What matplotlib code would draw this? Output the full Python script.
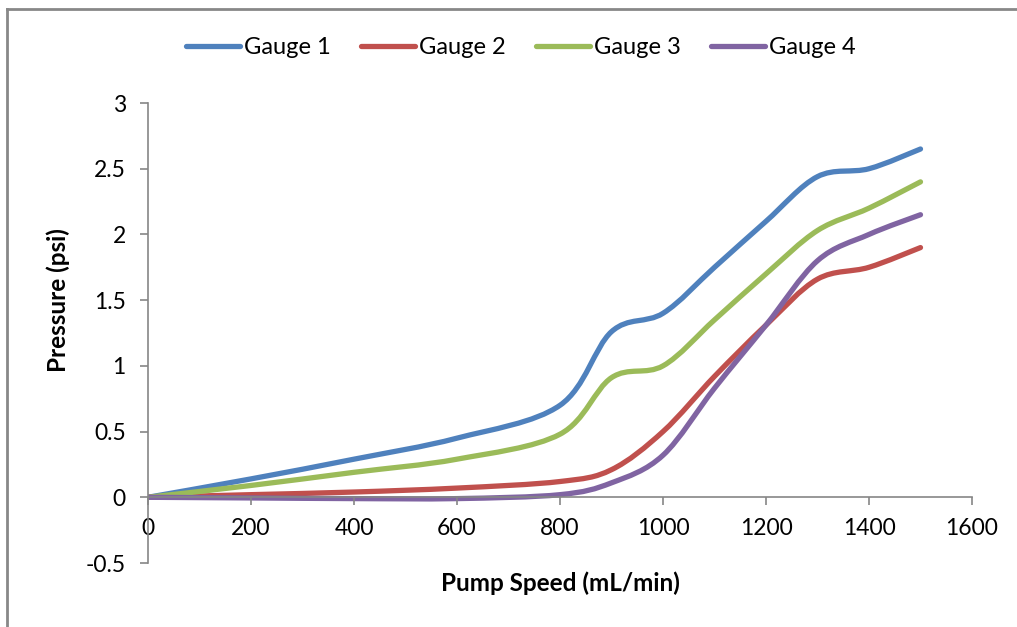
import matplotlib
matplotlib.use("Agg")
import matplotlib.pyplot as plt
from matplotlib.path import Path
from matplotlib.patches import PathPatch
from matplotlib.lines import Line2D

plt.rcParams['font.family'] = ['Lato', 'DejaVu Sans']

speed = [0, 200, 400, 600, 800, 900, 1000, 1100, 1200, 1300, 1400, 1500]
gauge1 = [0, 0.14, 0.29, 0.45, 0.70, 1.26, 1.40, 1.75, 2.10, 2.44, 2.50, 2.65]
gauge2 = [0, 0.02, 0.04, 0.07, 0.12, 0.21, 0.50, 0.92, 1.31, 1.66, 1.75, 1.90]
gauge3 = [0, 0.09, 0.19, 0.29, 0.48, 0.91, 1.00, 1.35, 1.70, 2.03, 2.20, 2.40]
gauge4 = [0, -0.005, -0.01, -0.01, 0.02, 0.11, 0.32, 0.83, 1.31, 1.80, 2.00, 2.15]
names = ['Gauge 1', 'Gauge 2', 'Gauge 3', 'Gauge 4']
colors = ['#4F81BD', '#C0504D', '#9BBB59', '#8064A2']


def smooth_path(xs, ys):
    # excel style smoothed line: cubic bezier through every point
    pts = list(zip(xs, ys))
    verts = [pts[0]]
    codes = [Path.MOVETO]
    n = len(pts)
    for i in range(n - 1):
        p0 = pts[i - 1] if i > 0 else pts[i]
        p1 = pts[i]
        p2 = pts[i + 1]
        p3 = pts[i + 2] if i + 2 < n else pts[i + 1]
        c1 = (p1[0] + (p2[0] - p0[0]) / 6, p1[1] + (p2[1] - p0[1]) / 6)
        c2 = (p2[0] - (p3[0] - p1[0]) / 6, p2[1] - (p3[1] - p1[1]) / 6)
        verts += [c1, c2, p2]
        codes += [Path.CURVE4] * 3
    return Path(verts, codes)


fig = plt.figure(figsize=(10.17, 6.27), dpi=100)
ax = fig.add_axes([148 / 1017, 1 - 563 / 627, 824 / 1017, 460 / 627])

handles = []
for ys, name, c in zip([gauge1, gauge2, gauge3, gauge4], names, colors):
    patch = PathPatch(smooth_path(speed, ys), facecolor='none', edgecolor=c,
                      lw=3.8, capstyle='round', joinstyle='round')
    ax.add_patch(patch)
    handles.append(Line2D([], [], color=c, lw=3.8, solid_capstyle='round', label=name))

ax.set_xlim(0, 1600)
ax.set_ylim(-0.5, 3)
ax.set_xticks(range(0, 1601, 200))
ax.set_yticks([-0.5, 0, 0.5, 1, 1.5, 2, 2.5, 3])
ax.set_yticklabels(['-0.5', '0', '0.5', '1', '1.5', '2', '2.5', '3'])

ax.spines['top'].set_visible(False)
ax.spines['right'].set_visible(False)
ax.spines['bottom'].set_position(('data', 0))
for s in ['left', 'bottom']:
    ax.spines[s].set_color('#868686')
    ax.spines[s].set_linewidth(1.2)
ax.tick_params(colors='#868686', labelcolor='black', labelsize=16.5, length=6, width=1.2)
ax.tick_params(axis='x', pad=9)
ax.tick_params(axis='y', pad=10)

fig.text(560 / 1017, 1 - 583 / 627, 'Pump Speed (mL/min)', ha='center', va='center',
         fontsize=17.5, fontweight='bold')
fig.text(58 / 1017, 1 - 300 / 627, 'Pressure (psi)', ha='center', va='center',
         rotation=90, fontsize=17.5, fontweight='bold')

fig.legend(handles=handles, loc='center', bbox_to_anchor=(521 / 1017, 1 - 48 / 627),
           ncol=4, frameon=False, fontsize=17, handlelength=2.3, handletextpad=0.17,
           columnspacing=1.27)

# chart border (only top and left edges visible in the crop)
fig.add_artist(Line2D([7 / 1017, 7 / 1017], [0, 1 - 9 / 627], transform=fig.transFigure,
                      color='#888888', lw=2))
fig.add_artist(Line2D([7 / 1017, 1], [1 - 9 / 627, 1 - 9 / 627], transform=fig.transFigure,
                      color='#888888', lw=2))

fig.savefig('out.png', dpi=100)
